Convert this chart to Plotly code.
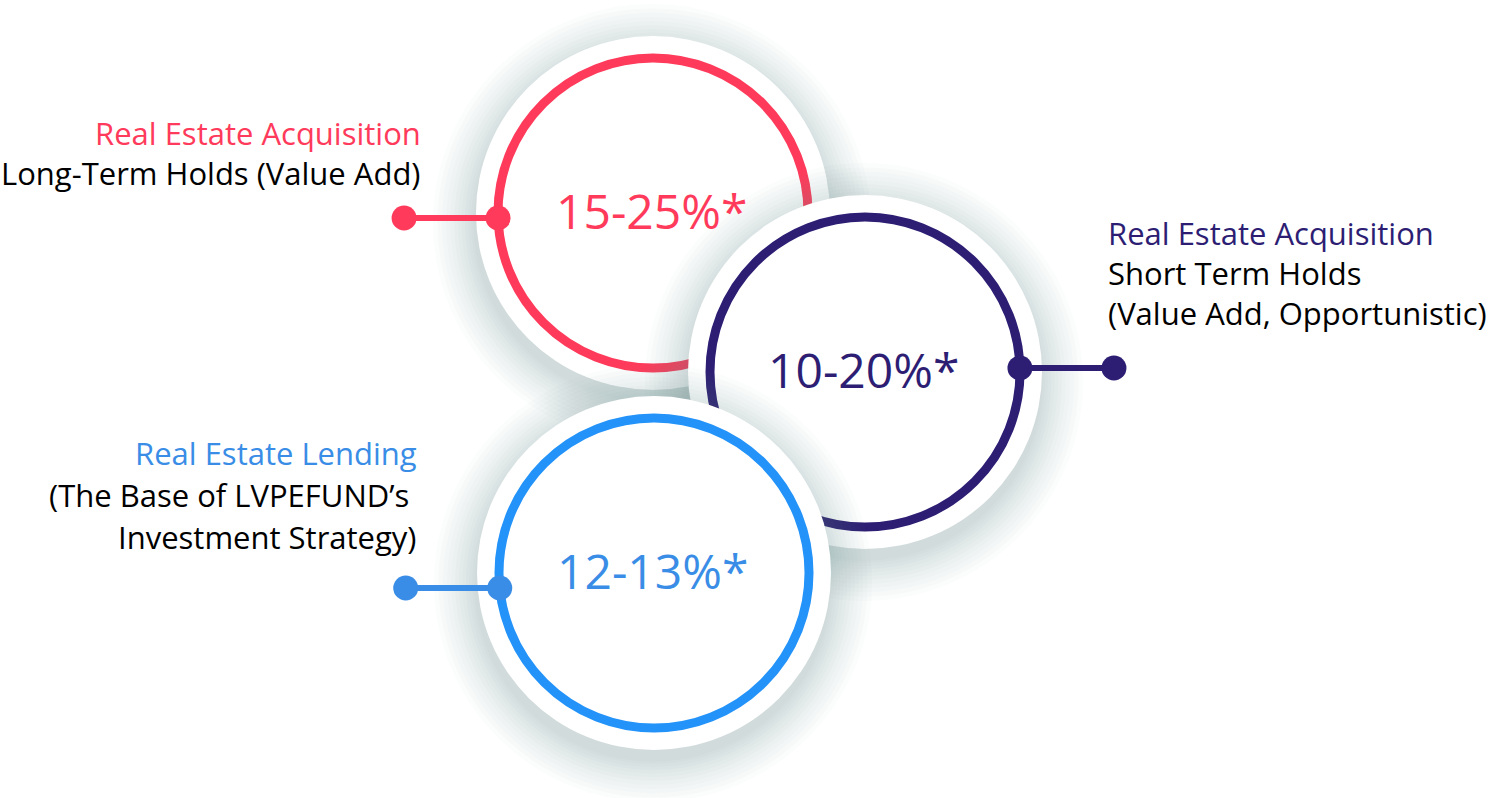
import math
import plotly.graph_objects as go

# data
returns = ["15-25%*", "10-20%*", "12-13%*"]
titles = ["Real Estate Acquisition", "Real Estate Acquisition", "Real Estate Lending"]
subtitles = [
    ["Long-Term Holds (Value Add)"],
    ["Short Term Holds", "(Value Add, Opportunistic)"],
    ["(The Base of LVPEFUND\u2019s ", "Investment Strategy)"],
]
ring_colors = ["#FF3A5A", "#2D1E74", "#2393FA"]
text_colors = ["#FF3A5A", "#2D1E74", "#3A8DE6"]

# layout of the diagram (pixel units on the axes)
centers_x = [653, 865, 654]
centers_y = [213, 372, 573]
ring_r = 155
disc_r = 177
connector_y = [218, 368, 588]
connector_side = [-1, 1, -1]
connector_len = 94
label_x = [423, 1106, 419]
label_y = [133, 233, 453]
line_h = [40, 40, 42]
font = "Open Sans"

fig = go.Figure()
shapes = []

for i in range(3):
    cx, cy = centers_x[i], centers_y[i]
    # soft drop shadow (stacked translucent discs)
    n = 12
    spread = 42
    for k in range(n):
        r = disc_r + spread * (1 - k / n) ** 1.3
        shapes.append(dict(type="circle", xref="x", yref="y",
                           x0=cx - 1 - r, x1=cx - 1 + r, y0=cy + 10 - r, y1=cy + 10 + r,
                           fillcolor="rgba(100,130,162,0.027)", line_width=0,
                           layer="below"))
    # white disc
    shapes.append(dict(type="circle", xref="x", yref="y",
                       x0=cx - disc_r, x1=cx + disc_r, y0=cy - disc_r, y1=cy + disc_r,
                       fillcolor="white", line_width=0, layer="below"))
    # ring
    shapes.append(dict(type="circle", xref="x", yref="y",
                       x0=cx - ring_r, x1=cx + ring_r, y0=cy - ring_r, y1=cy + ring_r,
                       line=dict(color=ring_colors[i], width=9), layer="below"))

fig.update_layout(shapes=shapes)

# connectors with end dots
for i in range(3):
    cx = centers_x[i]
    side = connector_side[i]
    y = connector_y[i]
    dy = y - centers_y[i]
    x_ring = cx + side * math.sqrt(ring_r ** 2 - dy ** 2)
    x_end = x_ring + side * connector_len
    fig.add_trace(go.Scatter(
        x=[x_ring, x_end], y=[y, y], mode="lines+markers",
        line=dict(color=text_colors[i], width=6),
        marker=dict(size=25, color=text_colors[i]),
        hoverinfo="skip", showlegend=False))

annotations = []
for i in range(3):
    # percentage in centre
    annotations.append(dict(x=centers_x[i] - 2, y=centers_y[i] - 3, xref="x", yref="y",
                            text=returns[i], showarrow=False,
                            font=dict(family=font, size=48, color=text_colors[i]),
                            xanchor="center", yanchor="middle"))
    anchor = "right" if connector_side[i] < 0 else "left"
    lines = [(titles[i], text_colors[i])] + [(s, "#000000") for s in subtitles[i]]
    for j, (txt, col) in enumerate(lines):
        annotations.append(dict(x=label_x[i], y=label_y[i] + j * line_h[i],
                                xref="x", yref="y", text=txt, showarrow=False,
                                font=dict(family=font, size=31, color=col),
                                xanchor=anchor, yanchor="middle"))

fig.update_layout(
    annotations=annotations,
    width=1500, height=798,
    margin=dict(l=0, r=0, t=0, b=0),
    paper_bgcolor="white", plot_bgcolor="white",
    xaxis=dict(range=[0, 1500], visible=False, fixedrange=True),
    yaxis=dict(range=[798, 0], visible=False, fixedrange=True),
)

# the page should start at the top-left corner, like the original graphic
fig.write_html("out.html", config={"displayModeBar": False},
               post_script="document.body.style.margin='0';")
